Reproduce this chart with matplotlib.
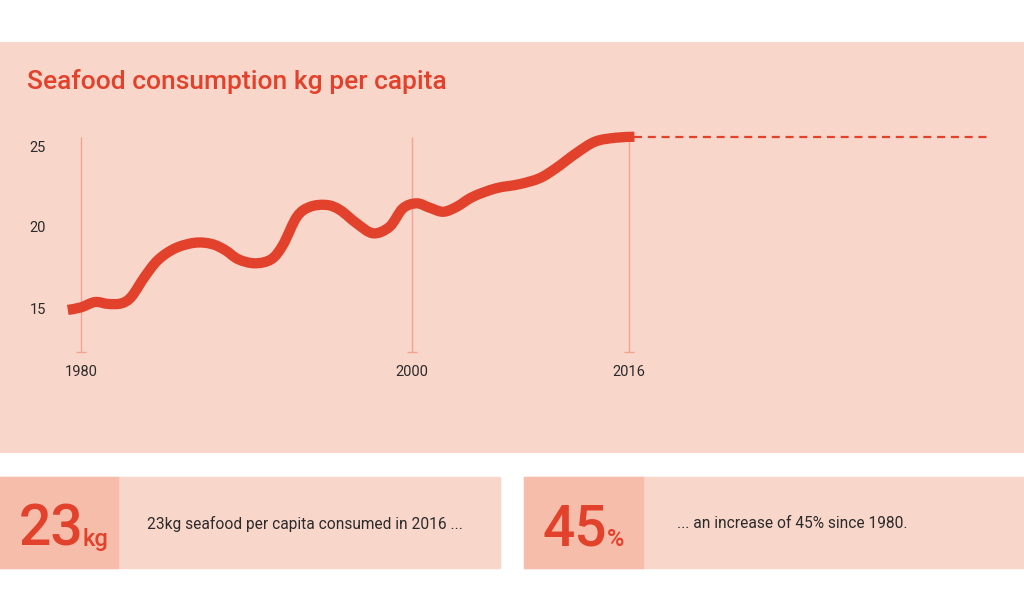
import numpy as np
import matplotlib
matplotlib.use("Agg")
import matplotlib.pyplot as plt
from matplotlib.patches import Rectangle, PathPatch
from matplotlib.path import Path

plt.rcParams["font.family"] = ["Roboto", "DejaVu Sans"]

# seafood consumption, kg per capita
years = [1979.2, 1980.0, 1980.85, 1981.65, 1982.45, 1983.05, 1983.85, 1984.65,
         1985.7, 1986.9, 1987.9, 1988.7, 1989.5, 1990.5, 1991.5, 1992.2,
         1993.05, 1993.85, 1994.85, 1995.65, 1996.65, 1997.65, 1998.65, 1999.45,
         2000.35, 2001.3, 2002.3, 2003.3, 2004.5, 2006.2, 2007.9, 2009.4,
         2010.6, 2012.1, 2013.5, 2015.0, 2016.4]
kg = [14.88, 15.04, 15.37, 15.25, 15.29, 15.70, 16.93, 17.96,
      18.69, 19.03, 18.95, 18.58, 18.01, 17.76, 18.01, 18.89,
      20.64, 21.25, 21.36, 21.05, 20.23, 19.61, 20.02, 21.15,
      21.46, 21.19, 20.94, 21.25, 21.87, 22.39, 22.64, 23.01,
      23.62, 24.55, 25.27, 25.51, 25.57]
proj_years = [2016.4, 2042.5]
proj_kg = [25.57, 25.57]

year_ticks = [1980, 2000, 2016]
kg_ticks = [15, 20, 25]

title = "Seafood consumption kg per capita"
stat1_big, stat1_unit, stat1_text = "23", "kg", "23kg seafood per capita consumed in 2016 ..."
stat2_big, stat2_unit, stat2_text = "45", "%", "... an increase of 45% since 1980."

RED = "#E2412C"
PINK = "#F9D6CA"
DARK = "#F6BDAB"
GUIDE = "#EFA58E"
TXT = "#2b2b2b"

W, H = 1024, 610
fig = plt.figure(figsize=(W / 100, H / 100), dpi=100, facecolor="white")


def fy(py):
    return 1 - py / H


# x axis is not evenly spaced in the original: 1980-2000 wider than 2000-2016
kx = [1900, 1980, 2000, 2100]
kp = [81 - 80 * 16.55, 81, 412, 412 + 100 * 13.5625]


def fwd(x):
    return np.interp(x, kx, kp)


def inv(p):
    return np.interp(p, kp, kx)


ax = fig.add_axes([0, fy(453), 1, (453 - 42) / H])
ax.set_facecolor(PINK)
ax.set_xscale("function", functions=(fwd, inv))
ax.set_xlim(inv(0), inv(W))
ax.set_ylim(15 - (453 - 308) / 16.2, 15 + (308 - 42) / 16.2)
for s in ax.spines.values():
    s.set_visible(False)

# guide lines
ax.vlines(year_ticks, 12.3, 25.55, color=GUIDE, lw=1, zorder=1)
ax.plot(year_ticks, [12.3] * 3, ls="none", marker="_", ms=7, mew=1, color=GUIDE, zorder=1)

# smooth curve through the read points (catmull-rom as cubic beziers, in pixel space)
fig.canvas.draw()
pts = ax.transData.transform(np.column_stack([years, kg]))
verts = [pts[0]]
codes = [Path.MOVETO]
for i in range(len(pts) - 1):
    p0 = pts[max(i - 1, 0)]
    p1, p2 = pts[i], pts[i + 1]
    p3 = pts[min(i + 2, len(pts) - 1)]
    verts += [p1 + (p2 - p0) / 6, p2 - (p3 - p1) / 6, p2]
    codes += [Path.CURVE4] * 3
ax.add_patch(PathPatch(Path(verts, codes), transform=None, fill=False, ec=RED, lw=7.4,
                       capstyle="butt", joinstyle="round", zorder=3))
ax.plot(proj_years, proj_kg, color=RED, lw=1.6, dashes=(3.6, 2.6), zorder=2)

ax.set_xticks(year_ticks)
ax.set_xticklabels([str(y) for y in year_ticks])
ax.set_yticks(kg_ticks)
ax.set_yticklabels([str(v) for v in kg_ticks])
ax.tick_params(axis="x", length=0, pad=-63.5, labelsize=10.5, labelcolor=TXT)
ax.tick_params(axis="y", length=0, pad=-33, labelsize=10.5, labelcolor=TXT)
ax.minorticks_off()

fig.text(27 / W, fy(81), title, color=RED, fontsize=19, fontweight="medium", va="center", ha="left")

# stat boxes
for x0, x1, xd, big, unit, txt, tx in [(0, 500, 118, stat1_big, stat1_unit, stat1_text, 147),
                                        (524, 1024, 643, stat2_big, stat2_unit, stat2_text, 677)]:
    fig.patches.append(Rectangle((x0 / W, fy(568)), (x1 - x0) / W, (568 - 477) / H,
                                 transform=fig.transFigure, color=PINK, zorder=0))
    fig.patches.append(Rectangle((x0 / W, fy(568)), (xd - x0) / W, (568 - 477) / H,
                                 transform=fig.transFigure, color=DARK, zorder=0))
    t = fig.text((x0 + 19) / W, fy(546), big, color=RED, fontsize=41, fontweight="medium",
                 ha="left", va="baseline")
    fig.canvas.draw()
    bb = t.get_window_extent()
    fig.text((bb.x1 - 1) / W, fy(546), unit, color=RED, fontsize=17, fontweight="medium",
             ha="left", va="baseline")
    fig.text(tx / W, fy(524), txt, color=TXT, fontsize=11.2, ha="left", va="center")

fig.savefig("out.png", dpi=100, facecolor="white")
